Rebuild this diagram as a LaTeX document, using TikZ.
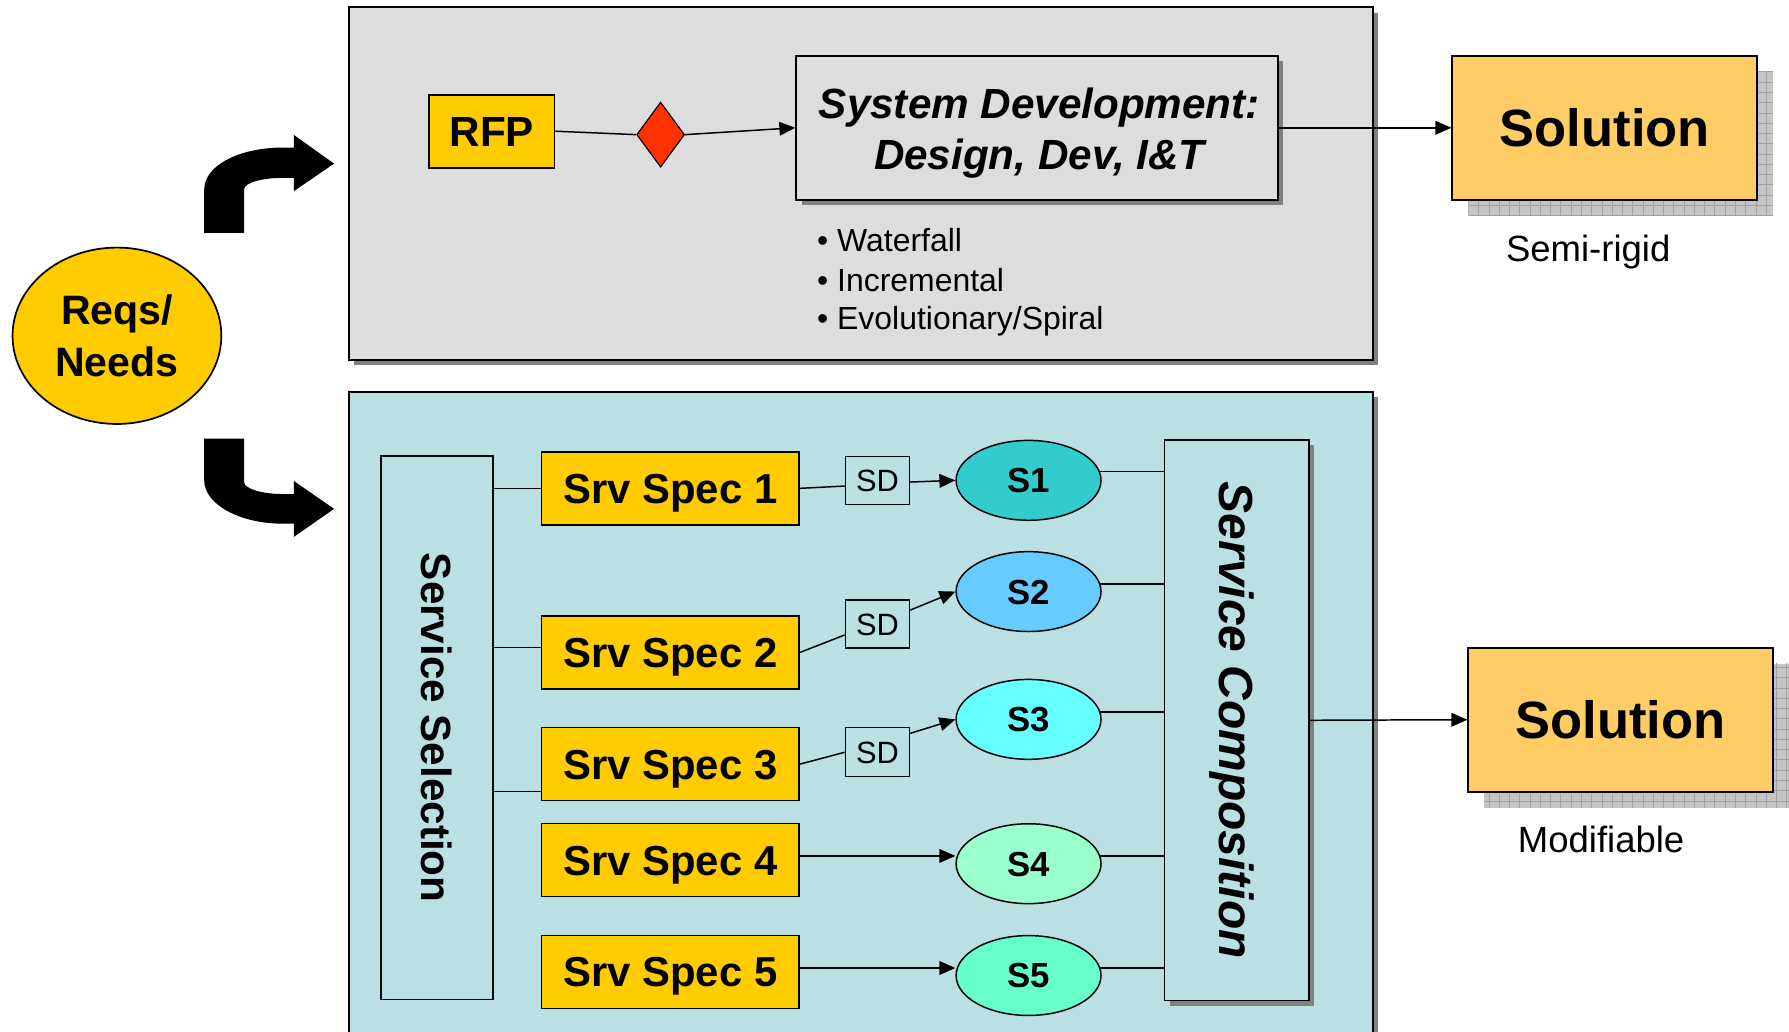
\documentclass[tikz,border=0pt]{standalone}
\usepackage{fontspec}
\setmainfont{Liberation Sans}
\usetikzlibrary{arrows.meta,shapes.geometric,shadows}
\definecolor{panelgray}{HTML}{DDDDDD}
\definecolor{panelblue}{HTML}{BBE0E3}
\definecolor{gold}{HTML}{FFCC00}
\definecolor{solfill}{HTML}{FFCC66}
\definecolor{diared}{HTML}{FF3300}
\definecolor{shadowgray}{HTML}{808080}
\definecolor{patbg}{HTML}{C4C4C4}
\definecolor{patline}{HTML}{A2A2A2}
\definecolor{sOne}{HTML}{33CCCC}
\definecolor{sTwo}{HTML}{66CCFF}
\definecolor{sThree}{HTML}{66FFFF}
\definecolor{sFour}{HTML}{99FFCC}
\definecolor{sFive}{HTML}{66FFCC}
\newcommand{\myfs}[2]{\fontsize{#1}{#2}\selectfont}
\begin{document}
\begin{tikzpicture}[x=1pt,y=-1pt,
  dshadow/.style={drop shadow={shadow xshift=4.5pt,shadow yshift=-4.5pt,fill=shadowgray,opacity=1}},
  panel/.style={draw=black,line width=1.8pt,inner sep=0pt,dshadow},
  ybox/.style={draw=black,line width=1.5pt,fill=gold,inner sep=0pt,rectangle},
  specbox/.style={ybox,minimum width=226pt,minimum height=64pt,font=\myfs{36.7}{44}\bfseries,text height=26.3pt,text depth=0pt},
  sdbox/.style={draw=black,line width=1.2pt,inner sep=0pt,minimum width=56pt,minimum height=42pt,font=\myfs{27}{32},text height=19.3pt,text depth=0pt},
  sell/.style={ellipse,draw=black,line width=1.3pt,inner sep=0pt,minimum width=127pt,minimum height=70pt,font=\myfs{30.5}{36}\bfseries,text height=21.8pt,text depth=0pt},
  solbox/.style={draw=black,line width=1.8pt,fill=solfill,inner sep=0pt,minimum width=267pt,minimum height=126.5pt,font=\myfs{46}{54}\bfseries,text height=32.9pt,text depth=0pt},
  conn/.style={draw=black,line width=1.3pt},
  arr/.style={conn,-{Triangle[length=14pt,width=12pt]}},
  bullet/.style={anchor=base west,inner sep=0pt,font=\myfs{28}{34}},
  caption/.style={anchor=base,inner sep=0pt,font=\myfs{32}{38}}
]
\useasboundingbox (0,0) rectangle (1568,904.3);
\clip (0,0) rectangle (1568,904.3);

% ---------- panels
\node[panel,fill=panelgray,minimum width=897.5pt,minimum height=309pt] (toppanel) at (754.25,161) {};
\node[panel,fill=panelblue,minimum width=897.5pt,minimum height=606.5pt] (botpanel) at (754.25,646.75) {};

% ---------- curved block arrows
\fill[black] (179,204) -- (179,166) .. controls (179,145) and (210,129.3) .. (248,129.3)
  -- (257.6,129.3) -- (257.6,118.3) -- (292.8,143.4) -- (257.6,167.5) -- (257.6,155.9)
  -- (248,155.9) .. controls (230,155.9) and (214,160) .. (214,166) -- (214,204) -- cycle;
\fill[black] (179,384.4) -- (179,421) .. controls (179,442) and (210,459) .. (248,459)
  -- (257.6,459) -- (257.6,470.5) -- (292.8,446) -- (257.6,421.6) -- (257.6,433)
  -- (248,433) .. controls (230,433) and (214,428.5) .. (214,422.5) -- (214,384.4) -- cycle;

% ---------- Reqs/Needs
\node[ellipse,draw=black,line width=1.5pt,fill=gold,minimum width=183pt,minimum height=154.6pt,
  inner sep=0pt,align=center,font=\myfs{36}{45.7}\bfseries] (reqs) at (102.5,294.3) {Reqs/\\Needs};

% ---------- top panel content
\node[ybox,minimum width=110pt,minimum height=64pt,font=\myfs{37}{44}\bfseries,text height=26.5pt,text depth=0pt] (rfp) at (431,115) {RFP};
\node[diamond,draw=black,line width=1pt,fill=diared,minimum width=42pt,minimum height=57pt,inner sep=0pt] (dia) at (579,118) {};
\node[draw=black,line width=1.8pt,fill=panelgray,dshadow,inner sep=0pt,minimum width=422pt,minimum height=126.5pt] (sysdev) at (909,112) {};
\node[anchor=base,inner sep=0pt,font=\myfs{37}{44}\bfseries\itshape] (sysdevA) at (911,103.7) {System Development:};
\node[anchor=base,inner sep=0pt,font=\myfs{37}{44}\bfseries\itshape] (sysdevB) at (911,148.4) {Design, Dev, I\&T};
\node[bullet] (bw) at (716,220.6) {\textbullet\ Waterfall};
\node[bullet] (bi) at (716,255.6) {\textbullet\ Incremental};
\node[bullet] (be) at (716,289) {\textbullet\ Evolutionary/Spiral};

% ---------- Solution 1
\fill[patbg] (1287,62.5) rectangle (1554,188.5);
\begin{scope}
  \clip (1287,62.5) rectangle (1554,188.5);
  \draw[patline,line width=0.7pt,step=9pt] (1270,40) grid (1570,200);
\end{scope}
\node[solbox] (sol1) at (1406.5,112) {Solution};
\node[caption] (semi) at (1392,229.3) {Semi-rigid};

\draw[conn] (rfp.east) -- (dia.west);
\draw[arr] (dia.east) -- (sysdev.west);
\draw[arr] (sysdev.east) -- (sol1.west);

% ---------- bottom panel content
\node[draw=black,line width=1.5pt,inner sep=0pt,minimum width=98.3pt,minimum height=476.3pt] (sel) at (382.85,637.85) {};
\node[rotate=-90,inner sep=0pt,font=\myfs{37}{44}\bfseries] (seltxt) at (sel.center) {Service Selection};
\node[draw=black,line width=1.5pt,fill=panelblue,dshadow,inner sep=0pt,minimum width=126.3pt,minimum height=491.4pt] (comp) at (1083.85,631.3) {};
\node[rotate=-90,inner sep=0pt,text depth=0pt,font=\myfs{42}{50}\bfseries\itshape] (comptxt) at (comp.center) {Service Composition};

\node[specbox] (spec1) at (587.5,428) {Srv Spec 1};
\node[specbox] (spec2) at (587.5,571.8) {Srv Spec 2};
\node[specbox] (spec3) at (587.5,669.7) {Srv Spec 3};
\node[specbox] (spec4) at (587.5,753.8) {Srv Spec 4};
\node[specbox] (spec5) at (587.5,851.8) {Srv Spec 5};

\node[sdbox] (sd1) at (769,421) {SD};
\node[sdbox] (sd2) at (769,547) {SD};
\node[sdbox,minimum height=43pt] (sd3) at (769,659.3) {SD};

\node[sell,fill=sOne] (s1) at (901.5,421) {S1};
\node[sell,fill=sTwo] (s2) at (901.5,518.5) {S2};
\node[sell,fill=sThree] (s3) at (901.5,630.5) {S3};
\node[sell,fill=sFour] (s4) at (901.5,757) {S4};
\node[sell,fill=sFive] (s5) at (901.5,855) {S5};

% Service Selection -> specs
\coordinate (c1) at (spec1.west);
\coordinate (c2) at ([yshift=4.2pt]spec2.west);
\coordinate (c3) at ([yshift=-24pt]spec3.west);
\draw[conn] (c1) -- (c1 -| sel.east);
\draw[conn] (c2) -- (c2 -| sel.east);
\draw[conn] (c3) -- (c3 -| sel.east);

% specs -> SD -> S
\draw[conn] (spec1.east) -- ([yshift=-5pt]sd1.west);
\draw[arr] ([yshift=-1.5pt]sd1.east) -- (s1.west);
\draw[conn] (spec2.east) -- ([yshift=-9.5pt]sd2.west);
\draw[arr] ([yshift=12.2pt]sd2.east) -- (s2.west);
\draw[conn] (spec3.east) -- (sd3.west);
\draw[arr] ([yshift=16.5pt]sd3.east) -- (s3.west);
\coordinate (a4) at ([yshift=3.6pt]spec4.east);
\coordinate (a5) at ([yshift=3.4pt]spec5.east);
\draw[arr] (a4) -- (a4 -| s4.west);
\draw[arr] (a5) -- (a5 -| s5.west);

% S -> Service Composition
\draw[conn] (s1.7) -- (s1.7 -| comp.west);
\draw[conn] (s2.6) -- (s2.6 -| comp.west);
\draw[conn] (s3.6) -- (s3.6 -| comp.west);
\draw[conn] (s4.6) -- (s4.6 -| comp.west);
\draw[conn] (s5.6) -- (s5.6 -| comp.west);

% ---------- Solution 2
\fill[patbg] (1301,581.6) rectangle (1570,708);
\begin{scope}
  \clip (1301,581.6) rectangle (1570,708);
  \draw[patline,line width=0.7pt,step=9pt] (1290,570) grid (1580,720);
\end{scope}
\node[solbox] (sol2) at (1420.5,630.8) {Solution};
\node[caption] (modi) at (1403.3,747.6) {Modifiable};
\draw[arr] (comp.east) -- (sol2.west);
\end{tikzpicture}
\end{document}
